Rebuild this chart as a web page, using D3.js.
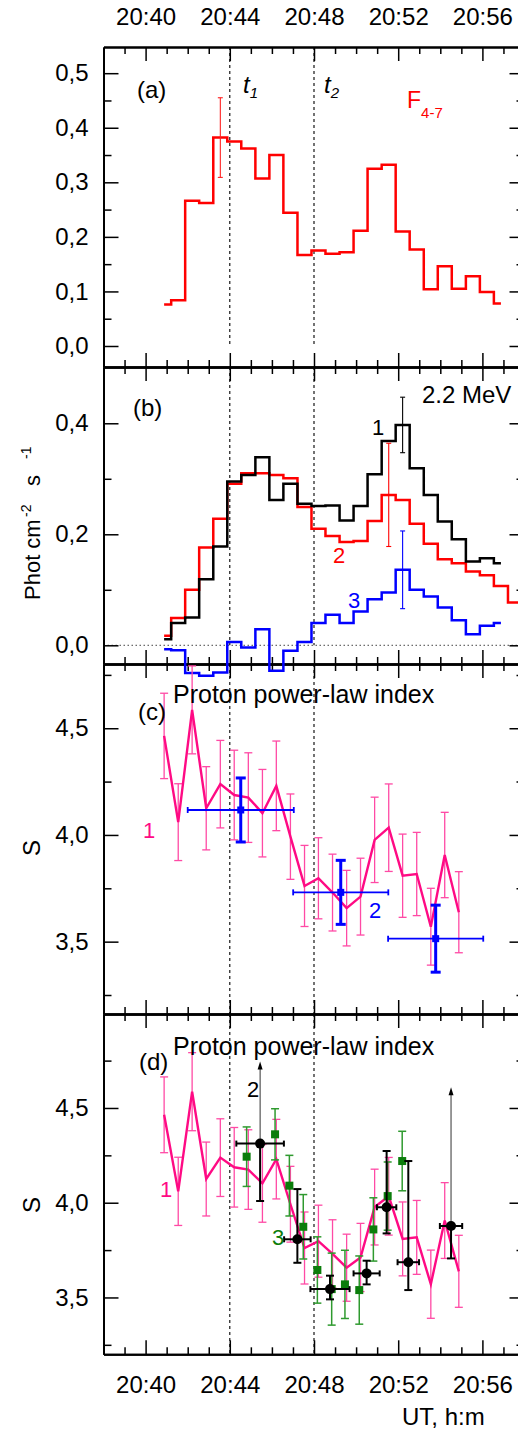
<!DOCTYPE html>
<html>
<head>
<meta charset="utf-8">
<script src="https://cdn.jsdelivr.net/npm/d3@7"></script>
<style>
  body { margin: 0; background: #fff; }
  svg { display: block; font-family: "Liberation Sans", Arial, sans-serif; }
  .domain { stroke: #000; stroke-width: 2; }
  .tick line { stroke: #000; stroke-width: 1.5; }
  .tick text { font-size: 24px; fill: #000; }
</style>
</head>
<body>
<svg width="518" height="1432"></svg>
<script>
// time grid of the 40 s bins, minutes after 20:00
const times = [40.88, 41.55, 42.21, 42.88, 43.55, 44.21, 44.88, 45.55, 46.21, 46.88,
  47.55, 48.21, 48.88, 49.55, 50.21, 50.88, 51.55, 52.21, 52.88, 53.55,
  54.21, 54.88, 55.55, 56.21, 56.88, 57.55, 58.21];

// (a) F4-7
const f47 = [0.076, 0.084, 0.266, 0.262, 0.382, 0.375, 0.362, 0.307, 0.350, 0.244,
  0.167, 0.175, 0.169, 0.172, 0.211, 0.325, 0.332, 0.210, 0.177, 0.104,
  0.146, 0.105, 0.128, 0.099, 0.078];
const f47ErrIdx = 4, f47Err = 0.073;

// (b) 2.2 MeV line, three curves
const line1 = [0.011, 0.040, 0.050, 0.119, 0.178, 0.295, 0.307, 0.339, 0.262, 0.291,
  0.255, 0.251, 0.252, 0.225, 0.251, 0.308, 0.368, 0.397, 0.319, 0.271,
  0.223, 0.191, 0.151, 0.157, 0.148];
const line2 = [0.017, 0.049, 0.100, 0.176, 0.228, 0.291, 0.310, 0.310, 0.307, 0.301,
  0.249, 0.210, 0.197, 0.186, 0.188, 0.224, 0.271, 0.262, 0.219, 0.183,
  0.155, 0.148, 0.133, 0.126, 0.107, 0.077, 0.077];
const line3 = [-0.007, -0.009, -0.050, -0.055, -0.049, 0.006, -0.004, 0.029, -0.046, -0.010,
  0.006, 0.040, 0.055, 0.040, 0.061, 0.083, 0.095, 0.136, 0.100, 0.088,
  0.068, 0.045, 0.020, 0.035, 0.040];
const bErrors = [ // [curve, bin index, half error]
  [1, 17, 0.050], [2, 16, 0.093], [3, 17, 0.070]];

// (c),(d) proton power-law index, curve 1
const s1 = [4.464, 4.060, 4.586, 4.125, 4.238, 4.187, 4.175, 4.102, 4.230, 3.992,
  3.761, 3.797, 3.730, 3.657, 3.711, 3.977, 4.034, 3.809, 3.817, 3.570,
  3.906, 3.638];
const s1Err = [0.200, 0.180, 0.206, 0.195, 0.205, 0.210, 0.210, 0.205, 0.210, 0.200,
  0.190, 0.190, 0.180, 0.177, 0.180, 0.200, 0.205, 0.195, 0.195, 0.180,
  0.200, 0.190];

// (c) curve 2 (blue)
const c2Time = [44.52, 49.27, 53.78];
const c2S = [4.117, 3.731, 3.514];
const c2Err = [0.150, 0.150, 0.157];
const c2TimeErr = [2.52, 2.26, 2.26];

// (d) curve 2 (black)
const d2Time = [45.44, 47.21, 48.76, 50.50, 51.45, 52.48, 54.51];
const d2S = [4.312, 3.807, 3.544, 3.627, 3.976, 3.686, 3.877];
const d2Lo = [0.303, 0.124, 0.054, 0.058, 0.138, 0.147, 0.171];
const d2Hi = [null, 0.265, 0.071, 0.067, 0.297, 0.534, null];
const d2Arrow = [4.745, null, null, null, null, null, 4.61];
const d2TimeErr = [1.13, 0.63, 0.93, 0.62, 0.46, 0.51, 0.53];

// (d) curve 3 (green)
const d3Time = [44.80, 46.15, 46.83, 47.49, 48.16, 48.84, 49.47, 50.15, 50.82, 51.50, 52.19];
const d3S = [4.243, 4.361, 4.090, 3.873, 3.645, 3.544, 3.569, 3.539, 3.859, 4.035, 4.220];
const d3Err = [0.157, 0.135, 0.160, 0.170, 0.175, 0.190, 0.180, 0.180, 0.167, 0.180, 0.157];

// axes
const xMajor = [40, 44, 48, 52, 56];
const xMinor = [39, 41, 42, 43, 45, 46, 47, 49, 50, 51, 53, 54, 55, 57];
const tMarks = [44, 48];
const aMajor = [0, 0.1, 0.2, 0.3, 0.4, 0.5], aMinor = [0.05, 0.15, 0.25, 0.35, 0.45];
const bMajor = [0, 0.2, 0.4], bMinor = [0.1, 0.3];
const sMajor = [3.5, 4.0, 4.5], sMinor = [3.25, 3.75, 4.25, 4.75];

const svg = d3.select('svg');
const L = 103.5, R = 524.5;
const x = d3.scaleLinear().domain([38, 58]).range([L, R]);

const panels = [
  { top: 47, bottom: 367, dom: [-0.0385, 0.548], major: aMajor, minor: aMinor },
  { top: 367, bottom: 664, dom: [-0.0337, 0.5014], major: bMajor, minor: bMinor },
  { top: 664, bottom: 1014, dom: [3.161, 4.801], major: sMajor, minor: sMinor },
  { top: 1014, bottom: 1354.3, dom: [3.2, 4.996], major: sMajor, minor: sMinor }
];
panels.forEach(p => { p.y = d3.scaleLinear().domain(p.dom).range([p.bottom, p.top]); });

const comma = v => d3.format('.1f')(v).replace('.', ',');
const hm = m => `20:${m}`;

// dashed time marks
panels.forEach((p, i) => {
  const yEnd = i < 2 ? p.y(0) : p.bottom;
  svg.append('g').selectAll('line').data(tMarks).join('line')
    .attr('x1', d => x(d)).attr('x2', d => x(d))
    .attr('y1', p.top).attr('y2', yEnd)
    .attr('stroke', '#000').attr('stroke-width', 1.1)
    .attr('stroke-dasharray', '3,3');
});

// zero line panel b
svg.append('line')
  .attr('x1', L).attr('x2', R)
  .attr('y1', panels[1].y(0)).attr('y2', panels[1].y(0))
  .attr('stroke', '#444').attr('stroke-width', 1)
  .attr('stroke-dasharray', '1.5,2.5');

// axes
panels.forEach((p, i) => {
  const left = svg.append('g').attr('transform', `translate(${L},0)`);
  left.call(d3.axisLeft(p.y).tickValues(p.major).tickSizeInner(-15).tickSizeOuter(0)
    .tickPadding(15).tickFormat(comma));
  left.append('g').call(d3.axisLeft(p.y).tickValues(p.minor).tickSizeInner(-8).tickSizeOuter(0)
    .tickFormat(''));

  const right = svg.append('g').attr('transform', `translate(${R},0)`);
  right.call(d3.axisRight(p.y).tickValues(p.major).tickSizeInner(-15).tickSizeOuter(0).tickFormat(''));
  right.append('g').call(d3.axisRight(p.y).tickValues(p.minor).tickSizeInner(-8).tickSizeOuter(0)
    .tickFormat(''));

  const top = svg.append('g').attr('transform', `translate(0,${p.top})`);
  top.call(d3.axisTop(x).tickValues(xMajor).tickSizeInner(-14).tickSizeOuter(0)
    .tickPadding(22).tickFormat(i === 0 ? hm : ''));
  top.append('g').call(d3.axisTop(x).tickValues(xMinor).tickSizeInner(-7).tickSizeOuter(0).tickFormat(''));

  const bot = svg.append('g').attr('transform', `translate(0,${p.bottom})`);
  bot.call(d3.axisBottom(x).tickValues(xMajor).tickSizeInner(-14).tickSizeOuter(0)
    .tickPadding(21.5).tickFormat(i === 3 ? hm : ''));
  bot.append('g').call(d3.axisBottom(x).tickValues(xMinor).tickSizeInner(-7).tickSizeOuter(0).tickFormat(''));
});
svg.selectAll('.domain').attr('stroke-width', 2);

// helpers
function vErr(g, cx, yTop, yBot, color, width, cap) {
  g.append('line').attr('x1', cx).attr('x2', cx).attr('y1', yTop).attr('y2', yBot)
    .attr('stroke', color).attr('stroke-width', width);
  [yTop, yBot].forEach(yy => g.append('line')
    .attr('x1', cx - cap / 2).attr('x2', cx + cap / 2).attr('y1', yy).attr('y2', yy)
    .attr('stroke', color).attr('stroke-width', width));
}
function hErr(g, cy, xL, xR, color, width, cap) {
  g.append('line').attr('x1', xL).attr('x2', xR).attr('y1', cy).attr('y2', cy)
    .attr('stroke', color).attr('stroke-width', width);
  [xL, xR].forEach(xx => g.append('line')
    .attr('x1', xx).attr('x2', xx).attr('y1', cy - cap / 2).attr('y2', cy + cap / 2)
    .attr('stroke', color).attr('stroke-width', width));
}
function stepLine(vals, yScale, color, width) {
  const data = vals.map((v, i) => ({ t: times[i], v }));
  svg.append('path').datum(data)
    .attr('d', d3.line().x(d => x(d.t)).y(d => yScale(d.v)).curve(d3.curveStep))
    .attr('fill', 'none').attr('stroke', color).attr('stroke-width', width);
}
function label(txt, px, py, size, color, extra) {
  const t = svg.append('text').attr('x', px).attr('y', py)
    .attr('font-size', size).attr('fill', color || '#000').text(txt);
  if (extra) extra(t);
  return t;
}

// ---- panel a
{
  const y = panels[0].y;
  stepLine(f47, y, '#ff0000', 2.5);
  const g = svg.append('g');
  const v = f47[f47ErrIdx];
  vErr(g, x(times[f47ErrIdx]), y(v + f47Err), y(v - f47Err), '#ff2020', 1.1, 5);
  label('(a)', 137, 98, 24);
  const t1 = label('t', 243, 93, 24, '#000', t => t.attr('font-style', 'italic'));
  t1.append('tspan').attr('font-size', 15).attr('dy', 5).text('1');
  const t2 = label('t', 324, 93, 24, '#000', t => t.attr('font-style', 'italic'));
  t2.append('tspan').attr('font-size', 15).attr('dy', 5).text('2');
  const f = label('F', 407, 108, 23, '#ff0000');
  f.append('tspan').attr('font-size', 15).attr('dy', 10).text('4-7');
}

// ---- panel b
{
  const y = panels[1].y;
  const cols = { 1: '#000000', 2: '#ff0000', 3: '#0000ff' };
  stepLine(line2, y, cols[2], 2.5);
  stepLine(line1, y, cols[1], 2.5);
  stepLine(line3, y, cols[3], 2.5);
  svg.append('clipPath').attr('id', 'clipR').append('rect')
    .attr('x', 0).attr('y', 0).attr('width', R).attr('height', 1432);
  const g = svg.append('g');
  const series = { 1: line1, 2: line2, 3: line3 };
  bErrors.forEach(([c, i, e]) => {
    const v = series[c][i];
    vErr(g, x(times[i]), y(v + e), y(v - e), cols[c], 1.1, 5);
  });
  label('(b)', 133, 416, 24);
  label('2.2 MeV', 422, 403, 24);
  label('1', 372, 435, 22, cols[1]);
  label('2', 333, 563, 22, cols[2]);
  label('3', 348, 608, 22, cols[3]);

  const yl = svg.append('text').attr('transform', 'translate(40,0) rotate(-90)')
    .attr('font-size', 22).attr('fill', '#000');
  yl.append('tspan').attr('x', -600).text('Phot cm');
  yl.append('tspan').attr('x', -517).attr('dy', -9).attr('font-size', 14).text('-2');
  yl.append('tspan').attr('x', -486).attr('dy', 9).text('s');
  yl.append('tspan').attr('x', -459).attr('dy', -9).attr('font-size', 14).text('-1');
}

// ---- pink curve 1 (panels c, d)
const pinkLine = '#ff0a84', pinkErr = '#ff4aa5';
function drawS1(y) {
  const g = svg.append('g');
  s1.forEach((v, i) => vErr(g, x(times[i]), y(v + s1Err[i]), y(v - s1Err[i]), pinkErr, 1.3, 8));
  svg.append('path').datum(s1.map((v, i) => ({ t: times[i], v })))
    .attr('d', d3.line().x(d => x(d.t)).y(d => y(d.v)))
    .attr('fill', 'none').attr('stroke', pinkLine).attr('stroke-width', 2.4)
    .attr('stroke-linejoin', 'miter');
}

// ---- panel c
{
  const y = panels[2].y;
  drawS1(y);
  const g = svg.append('g');
  c2S.forEach((v, i) => {
    const cx = x(c2Time[i]), cy = y(v);
    hErr(g, cy, x(c2Time[i] - c2TimeErr[i]), x(c2Time[i] + c2TimeErr[i]), '#0000ff', 1.8, 6);
    vErr(g, cx, y(v + c2Err[i]), y(v - c2Err[i]), '#0000ff', 3, 10);
    g.append('rect').attr('x', cx - 3.5).attr('y', cy - 3.5).attr('width', 7).attr('height', 7)
      .attr('fill', '#0000ff');
  });
  label('Proton power-law index', 173, 703, 25);
  label('(c)', 138, 720, 24);
  label('1', 143, 838, 22, pinkLine);
  label('2', 369, 918, 22, '#0000ff');
  svg.append('text').attr('transform', 'translate(40,848) rotate(-90)')
    .attr('text-anchor', 'middle').attr('font-size', 24).text('S');
}

// ---- panel d
{
  const y = panels[3].y;
  drawS1(y);
  const g = svg.append('g');
  const green = '#0b7d0b', greenErr = '#2f9a2f';
  d3S.forEach((v, i) => {
    const cx = x(d3Time[i]), cy = y(v);
    vErr(g, cx, y(v + d3Err[i]), y(v - d3Err[i]), greenErr, 1.5, 8);
    g.append('rect').attr('x', cx - 4).attr('y', cy - 4).attr('width', 8).attr('height', 8)
      .attr('fill', green);
  });
  d2S.forEach((v, i) => {
    const cx = x(d2Time[i]), cy = y(v);
    if (d2Arrow[i] !== null) {
      const tip = y(d2Arrow[i]);
      g.append('line').attr('x1', cx).attr('x2', cx).attr('y1', cy).attr('y2', tip + 4)
        .attr('stroke', '#333').attr('stroke-width', 1);
      g.append('path').attr('d', `M${cx},${tip} L${cx - 2.5},${tip + 8} L${cx + 2.5},${tip + 8} Z`)
        .attr('fill', '#000');
      vErr(g, cx, cy, y(v - d2Lo[i]), '#000', 2, 8);
    } else {
      vErr(g, cx, y(v + d2Hi[i]), y(v - d2Lo[i]), '#000', 2, 8);
    }
    hErr(g, cy, x(d2Time[i] - d2TimeErr[i]), x(d2Time[i] + d2TimeErr[i]), '#000', 2, 6);
    g.append('circle').attr('cx', cx).attr('cy', cy).attr('r', 5).attr('fill', '#000');
  });
  label('Proton power-law index', 173, 1055, 25);
  label('(d)', 139, 1070, 24);
  label('2', 247, 1097, 22, '#000');
  label('1', 160, 1197, 22, pinkLine);
  label('3', 272, 1245, 22, green);
  svg.append('text').attr('transform', 'translate(40,1205) rotate(-90)')
    .attr('text-anchor', 'middle').attr('font-size', 24).text('S');
  label('UT, h:m', 402, 1425, 24);
}
</script>
</body>
</html>
